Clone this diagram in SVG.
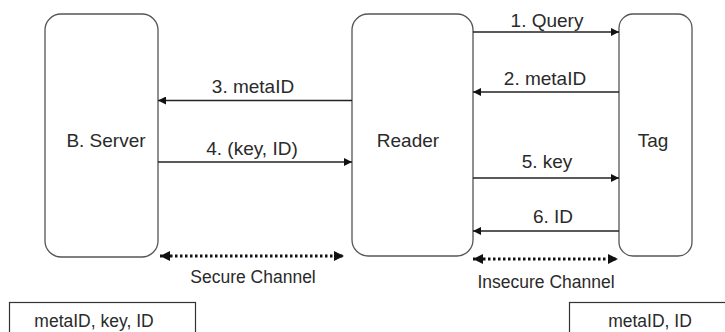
<svg xmlns="http://www.w3.org/2000/svg" width="725" height="332" viewBox="0 0 725 332">
<defs>
<marker id="ah" viewBox="0 0 10 10" refX="10" refY="5" markerWidth="10" markerHeight="8" markerUnits="userSpaceOnUse" orient="auto-start-reverse">
<path d="M0,0 L10,5 L0,10 z" fill="#111"/>
</marker>
<marker id="dh" viewBox="0 0 10 10" refX="10" refY="5" markerWidth="10" markerHeight="10" markerUnits="userSpaceOnUse" orient="auto-start-reverse">
<path d="M0,0 L10,5 L0,10 z" fill="#111"/>
</marker>
<style>
.node{fill:#fff;stroke:#555;stroke-width:1.3}
.box{fill:#fff;stroke:#333;stroke-width:1.2}
.lbl{font-family:"Liberation Sans",Arial,sans-serif;font-size:19px;fill:#2a2a2a;text-anchor:middle}
.small{font-family:"Liberation Sans",Arial,sans-serif;font-size:17.5px;fill:#2a2a2a;text-anchor:middle}
.msg{stroke:#222;stroke-width:1.3;fill:none;marker-end:url(#ah)}
.chan{stroke:#111;stroke-width:3;stroke-dasharray:2.5 2.5;fill:none;marker-start:url(#dh);marker-end:url(#dh)}
</style>
</defs>
<rect width="725" height="332" fill="#fff"/>
<g id="server">
<rect class="node" x="45" y="14" width="113" height="243" rx="16"/>
<text class="lbl" x="106" y="147">B. Server</text>
</g>
<g id="reader">
<rect class="node" x="352" y="14" width="121" height="242" rx="16"/>
<text class="lbl" x="408" y="147">Reader</text>
</g>
<g id="tag">
<rect class="node" x="619" y="14" width="73" height="242" rx="14"/>
<text class="lbl" x="653" y="147">Tag</text>
</g>
<g id="server-store">
<rect class="box" x="9.5" y="302.5" width="186" height="40"/>
<text class="small" x="94" y="327">metaID, key, ID</text>
</g>
<g id="tag-store">
<rect class="box" x="569.5" y="302.5" width="170" height="40"/>
<text class="small" x="650" y="327">metaID, ID</text>
</g>
<g id="connectors">
<line class="msg" x1="473" y1="32" x2="619" y2="32"/>
<text class="lbl" x="547" y="27">1. Query</text>
<line class="msg" x1="619" y1="92" x2="473" y2="92"/>
<text class="lbl" x="545" y="85">2. metaID</text>
<line class="msg" x1="352" y1="100.5" x2="158" y2="100.5"/>
<text class="lbl" x="253" y="93">3. metaID</text>
<line class="msg" x1="158" y1="162" x2="352" y2="162"/>
<text class="lbl" x="252" y="155">4. (key, ID)</text>
<line class="msg" x1="473" y1="178" x2="619" y2="178"/>
<text class="lbl" x="547" y="168">5. key</text>
<line class="msg" x1="619" y1="231" x2="473" y2="231"/>
<text class="lbl" x="553" y="223">6. ID</text>
<line class="chan" x1="160" y1="256" x2="344" y2="256"/>
<text class="small" x="253" y="283">Secure Channel</text>
<line class="chan" x1="473" y1="259" x2="618" y2="259"/>
<text class="small" x="546" y="288">Insecure Channel</text>
</g>
</svg>
